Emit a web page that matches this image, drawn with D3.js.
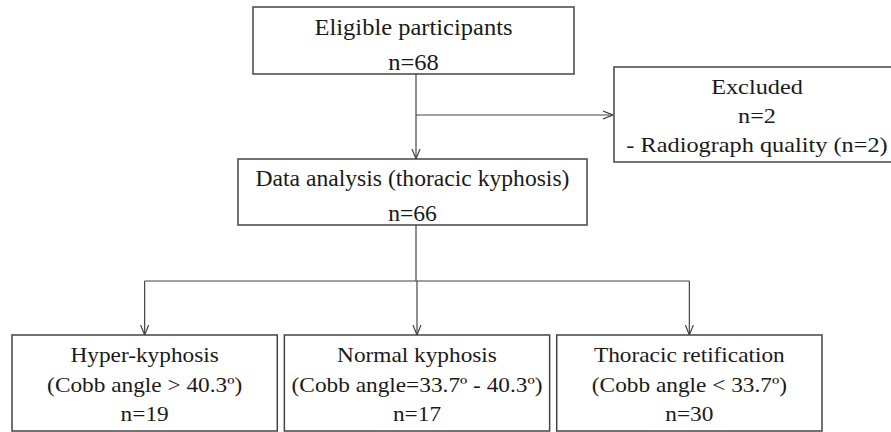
<!DOCTYPE html>
<html>
<head>
<meta charset="utf-8">
<script src="https://cdn.jsdelivr.net/npm/d3@7"></script>
<style>
  body { margin: 0; background: #fff; }
  svg { display: block; }
  text { font-family: "Liberation Serif", serif; }
</style>
</head>
<body>
<svg width="891" height="432"></svg>
<script>
// flow numbers
var eligibleCount = 68;
var excludedCount = 2;
var analysedCount = 66;
var exclusionReasons = ["Radiograph quality"];
var exclusionCounts = [2];

// the three groups at the bottom
var groupNames = ["Hyper-kyphosis", "Normal kyphosis", "Thoracic retification"];
var groupCriteria = ["(Cobb angle > 40.3º)", "(Cobb angle=33.7º - 40.3º)", "(Cobb angle < 33.7º)"];
var groupCounts = [19, 17, 30];

var svg = d3.select("svg"),
    lineColor = "#444",
    textColor = "#1a1a1a";

svg.append("defs").append("marker")
    .attr("id", "arrow")
    .attr("viewBox", "0 0 10 10")
    .attr("refX", 10)
    .attr("refY", 5)
    .attr("markerWidth", 10)
    .attr("markerHeight", 10)
    .attr("markerUnits", "userSpaceOnUse")
    .attr("orient", "auto")
  .append("path")
    .attr("d", "M0,1 L10,5 L0,9")
    .attr("fill", "none")
    .attr("stroke", lineColor)
    .attr("stroke-width", 1.2);

// t = text settings: first baseline, line gap, font size, horizontal stretch
function box(x, y, w, h, lines, t) {
  var g = svg.append("g");
  g.append("rect")
      .attr("x", x).attr("y", y)
      .attr("width", w).attr("height", h)
      .attr("fill", "#fff")
      .attr("stroke", lineColor)
      .attr("stroke-width", 1.5);
  g.selectAll("text")
    .data(lines)
    .enter().append("text")
      .attr("transform", function(d, i) {
        return "translate(" + (x + w / 2) + "," + (y + t.base + i * t.gap) + ") scale(" + t.stretch + ",1)";
      })
      .attr("text-anchor", "middle")
      .attr("font-size", t.size)
      .attr("fill", textColor)
      .text(function(d) { return d; });
}

function line(pts, arrow) {
  var p = svg.append("path")
      .attr("d", d3.line()(pts))
      .attr("fill", "none")
      .attr("stroke", lineColor)
      .attr("stroke-width", 1.2);
  if (arrow) p.attr("marker-end", "url(#arrow)");
}

var mainX = 416;

// top boxes
box(253, 7, 321, 67, ["Eligible participants", "n=" + eligibleCount],
    {base: 28, gap: 35, size: 22.5, stretch: 1.09});
box(614, 67, 286, 95,
    ["Excluded", "n=" + excludedCount].concat(exclusionReasons.map(function(r, i) {
      return "- " + r + " (n=" + exclusionCounts[i] + ")";
    })),
    {base: 26.5, gap: 29.2, size: 21.5, stretch: 1.13});
box(238, 159, 349, 66, ["Data analysis (thoracic kyphosis)", "n=" + analysedCount],
    {base: 27, gap: 35, size: 22.5, stretch: 1.05});

line([[mainX, 74], [mainX, 159]], true);
line([[mainX, 115], [613, 115]], true);

// bottom row
var x = d3.scaleBand()
    .domain(groupNames)
    .range([12, 822])
    .paddingInner(0.026);

var boxTop = 335, boxH = 96, branchY = 281;

line([[mainX, 225], [mainX, branchY]], false);
line([[x(groupNames[0]) + x.bandwidth() / 2, branchY],
      [x(groupNames[groupNames.length - 1]) + x.bandwidth() / 2, branchY]], false);

groupNames.forEach(function(name, i) {
  var cx = x(name) + x.bandwidth() / 2;
  line([[cx, branchY], [cx, boxTop]], true);
  box(x(name), boxTop, x.bandwidth(), boxH,
      [name, groupCriteria[i], "n=" + groupCounts[i]],
      {base: 27, gap: 29.5, size: 21, stretch: 1.11});
});
</script>
</body>
</html>
